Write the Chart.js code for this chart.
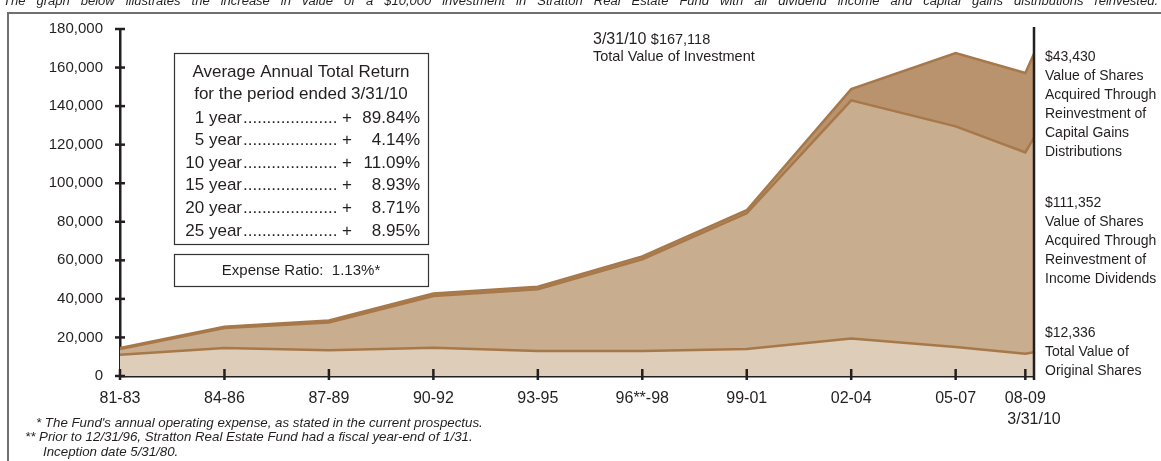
<!DOCTYPE html>
<html>
<head>
<meta charset="utf-8">
<script src="https://cdn.jsdelivr.net/npm/chart.js@4/dist/chart.umd.min.js"></script>
<style>
  html, body { margin: 0; padding: 0; background: #ffffff; }
  #wrap { position: relative; width: 1161px; height: 461px; overflow: hidden; }
  canvas { display: block; }
</style>
</head>
<body>
<div id="wrap"><canvas id="growth" width="1161" height="461"></canvas></div>
<script>
// Period labels along the time axis and where each one sits (one unit = three years)
const periodLabels = ['81-83', '84-86', '87-89', '90-92', '93-95', '96**-98', '99-01', '02-04', '05-07', '08-09'];
const periodTicks = [0, 1, 2, 3, 4, 5, 6, 7, 8, 8.667];
const endTick = 8.75;          // 3/31/10
const endLabel = '3/31/10';

// Positions of the plotted values on the time axis
const pointX = [0, 1, 2, 3, 4, 5, 6, 7, 8, 8.667, 8.75];

// Value of the three components of the investment (dollars)
const originalShares  = [11000, 14500, 13300, 14700, 13000, 13000, 14000, 19500, 15000, 11500, 12336];
const incomeDividends = [3000, 10400, 14500, 26800, 32000, 47500, 70400, 123500, 114500, 104500, 111352];
const capitalGains    = [500, 700, 1000, 1300, 1300, 1500, 1600, 5800, 38000, 41200, 43430];

// Value axis ticks
const valueTicks = [0, 20000, 40000, 60000, 80000, 100000, 120000, 140000, 160000, 180000];

// Average annual total return table
const returnPeriods = ['1 year', '5 year', '10 year', '15 year', '20 year', '25 year'];
const returnValues  = ['89.84%', '4.14%', '11.09%', '8.93%', '8.71%', '8.95%'];
const expenseRatio  = '1.13%';

const FONT = '"Liberation Sans", Arial, Helvetica, sans-serif';
const INK = '#231f20';

const fmt = v => v.toLocaleString('en-US');

const series = (vals) => pointX.map((x, i) => ({ x: x, y: vals[i] }));

const decor = {
  id: 'decor',
  afterDraw(chart) {
    const ctx = chart.ctx;
    const xs = chart.scales.x, ys = chart.scales.y;
    const area = chart.chartArea;
    ctx.save();

    // outer frame
    ctx.strokeStyle = '#707070';
    ctx.lineWidth = 2;
    ctx.beginPath();
    ctx.moveTo(8, 470);
    ctx.lineTo(8, 13);
    ctx.lineTo(1170, 13);
    ctx.stroke();

    // justified caption across the top
    ctx.fillStyle = INK;
    ctx.font = 'italic 13px ' + FONT;
    ctx.textBaseline = 'alphabetic';
    ctx.textAlign = 'left';
    const caption = 'The graph below illustrates the increase in value of a $10,000 investment in Stratton Real Estate Fund with all dividend income and capital gains distributions reinvested.';
    const words = caption.split(' ');
    const widths = words.map(w => ctx.measureText(w).width);
    const total = widths.reduce((a, b) => a + b, 0);
    const x0 = 3, x1 = 1158;
    const gap = (x1 - x0 - total) / (words.length - 1);
    let cx = x0;
    words.forEach((w, i) => { ctx.fillText(w, cx, 5); cx += widths[i] + gap; });

    // tick marks crossing the axes
    ctx.strokeStyle = INK;
    ctx.lineWidth = 2.5;
    valueTicks.forEach(v => {
      const py = ys.getPixelForValue(v);
      ctx.beginPath();
      ctx.moveTo(area.left - 5, py);
      ctx.lineTo(area.left + 5, py);
      ctx.stroke();
    });
    periodTicks.forEach(v => {
      const px = xs.getPixelForValue(v);
      ctx.beginPath();
      ctx.moveTo(px, area.bottom - 7);
      ctx.lineTo(px, area.bottom + 4);
      ctx.stroke();
    });

    // closing line at 3/31/10
    const ex = xs.getPixelForValue(endTick);
    ctx.beginPath();
    ctx.moveTo(ex, area.top - 2);
    ctx.lineTo(ex, area.bottom + 4);
    ctx.stroke();

    // return table
    ctx.lineWidth = 1.2;
    ctx.strokeStyle = '#333';
    ctx.strokeRect(174.5, 53.5, 254, 191);
    ctx.strokeRect(174.5, 254.5, 254, 32);

    ctx.fillStyle = INK;
    ctx.font = '17px ' + FONT;
    ctx.textBaseline = 'middle';
    ctx.textAlign = 'center';
    ctx.fillText('Average Annual Total Return', 301, 72);
    ctx.fillText('for the period ended 3/31/10', 301, 94);

    returnPeriods.forEach((p, i) => {
      const y = 118 + i * 22.6;
      ctx.textAlign = 'right';
      ctx.fillText(p, 242, y);
      ctx.textAlign = 'left';
      let dots = '';
      while (ctx.measureText(dots + '.').width < 98) dots += '.';
      ctx.fillText(dots, 243, y);
      ctx.textAlign = 'center';
      ctx.fillText('+', 347, y);
      ctx.textAlign = 'right';
      ctx.fillText(returnValues[i], 420, y);
    });

    ctx.font = '15px ' + FONT;
    ctx.textAlign = 'center';
    ctx.fillText('Expense Ratio:  ' + expenseRatio + '*', 301, 271);

    // total value note
    ctx.textAlign = 'left';
    ctx.font = '16px ' + FONT;
    ctx.fillText('3/31/10', 593, 40);
    const w1 = ctx.measureText('3/31/10 ').width;
    ctx.font = '14.5px ' + FONT;
    ctx.fillText('$' + fmt(originalShares[10] + incomeDividends[10] + capitalGains[10]), 593 + w1, 40);
    ctx.fillText('Total Value of Investment', 593, 57);

    // component labels at the right
    ctx.font = '14px ' + FONT;
    const blocks = [
      { y: 57, lines: ['$' + fmt(capitalGains[10]), 'Value of Shares', 'Acquired Through', 'Reinvestment of', 'Capital Gains', 'Distributions'] },
      { y: 203, lines: ['$' + fmt(incomeDividends[10]), 'Value of Shares', 'Acquired Through', 'Reinvestment of', 'Income Dividends'] },
      { y: 333, lines: ['$' + fmt(originalShares[10]), 'Total Value of', 'Original Shares'] }
    ];
    blocks.forEach(b => b.lines.forEach((t, i) => ctx.fillText(t, 1045, b.y + i * 19)));

    // footnotes
    ctx.font = 'italic 13.3px ' + FONT;
    ctx.fillText("* The Fund's annual operating expense, as stated in the current prospectus.", 36, 423);
    ctx.fillText('** Prior to 12/31/96, Stratton Real Estate Fund had a fiscal year-end of 1/31.', 25, 437.5);
    ctx.fillText('Inception date 5/31/80.', 43, 452);

    ctx.restore();
  }
};

const LINE = '#a77849';

new Chart(document.getElementById('growth'), {
  type: 'line',
  data: {
    datasets: [
      { label: 'Original Shares', data: series(originalShares), backgroundColor: '#ddcdb9', borderColor: LINE, borderWidth: 2.5, fill: 'origin' },
      { label: 'Income Dividends', data: series(incomeDividends), backgroundColor: '#c9ad8f', borderColor: LINE, borderWidth: 2.5, fill: '-1' },
      { label: 'Capital Gains', data: series(capitalGains), backgroundColor: '#b8936d', borderColor: LINE, borderWidth: 2.5, fill: '-1' }
    ]
  },
  options: {
    responsive: false,
    animation: false,
    devicePixelRatio: 1,
    layout: { padding: { top: 29, right: 127, left: 0, bottom: 0 } },
    elements: { point: { radius: 0 }, line: { tension: 0, borderJoinStyle: 'miter' } },
    plugins: { legend: { display: false }, tooltip: { enabled: false } },
    scales: {
      x: {
        type: 'linear',
        min: 0,
        max: endTick,
        z: 1,
        grid: { display: false },
        border: { display: true, color: INK, width: 2.5 },
        afterBuildTicks: s => { s.ticks = periodTicks.concat([endTick]).map(v => ({ value: v })); },
        afterFit: s => { s.height = 85; },
        ticks: {
          autoSkip: false,
          maxRotation: 0,
          padding: 4,
          color: INK,
          font: { family: FONT, size: 16, lineHeight: 1.3 },
          callback: (v, i) => i < periodLabels.length ? periodLabels[i] : ['', endLabel]
        }
      },
      y: {
        type: 'linear',
        stacked: true,
        min: 0,
        max: 180000,
        z: 1,
        grid: { display: false },
        border: { display: true, color: INK, width: 2.5 },
        afterBuildTicks: s => { s.ticks = valueTicks.map(v => ({ value: v })); },
        afterFit: s => { s.width = 120; },
        ticks: {
          padding: 9,
          color: INK,
          font: { family: FONT, size: 15 },
          callback: v => fmt(v)
        }
      }
    }
  },
  plugins: [decor]
});
</script>
</body>
</html>
